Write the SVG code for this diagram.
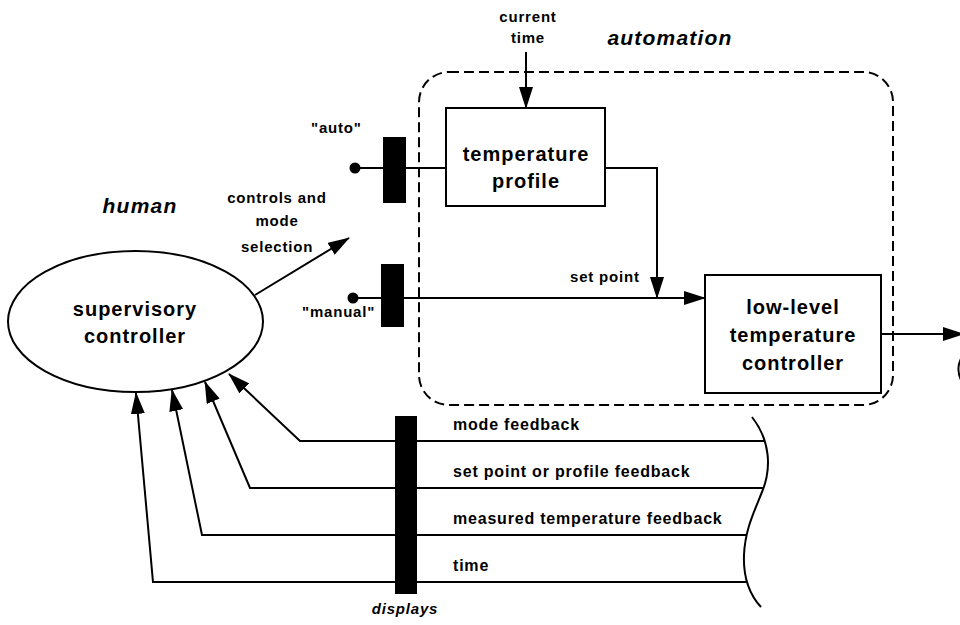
<svg xmlns="http://www.w3.org/2000/svg" width="960" height="625" viewBox="0 0 960 625">
  <style>
    .bg { fill: #ffffff; }
    .box { fill: #ffffff; stroke: #000; stroke-width: 2; }
    .wire { fill: none; stroke: #000; stroke-width: 2; }
    .dash { fill: none; stroke: #000; stroke-width: 2; stroke-dasharray: 10 5; }
    .bar { fill: #000; }
    .node { font-family: "Liberation Sans", Arial, sans-serif; font-weight: bold; font-size: 20px; letter-spacing: 1px; text-anchor: middle; fill: #000; }
    .lbl { font-family: "Liberation Sans", Arial, sans-serif; font-weight: bold; font-size: 15px; letter-spacing: 0.8px; fill: #000; }
    .fb { font-family: "Liberation Sans", Arial, sans-serif; font-weight: bold; font-size: 16px; letter-spacing: 0.8px; fill: #000; }
    .title { font-family: "Liberation Sans", Arial, sans-serif; font-weight: bold; font-style: italic; font-size: 21px; letter-spacing: 1.2px; text-anchor: middle; fill: #000; }
    .mid { text-anchor: middle; }
  </style>
  <defs>
    <marker id="arrow" markerUnits="userSpaceOnUse" markerWidth="22" markerHeight="14" viewBox="0 0 22 14" refX="21" refY="7" orient="auto">
      <path d="M0,0 L22,7 L0,14 Z" fill="#000"/>
    </marker>
  </defs>

  <rect class="bg" x="0" y="0" width="960" height="625"/>

  <!-- region titles -->
  <text class="title" x="140" y="213">human</text>
  <text class="title" x="670" y="45">automation</text>

  <!-- automation boundary -->
  <rect id="automation-boundary" class="dash" x="419" y="72" width="474" height="333" rx="30" ry="30"/>

  <!-- connectors -->
  <g id="connectors">
    <!-- current time into profile -->
    <line class="wire" x1="526" y1="52" x2="526" y2="108" marker-end="url(#arrow)"/>
    <!-- controls and mode selection -->
    <line class="wire" x1="255" y1="295" x2="349" y2="238" marker-end="url(#arrow)"/>
    <!-- auto switch path -->
    <line class="wire" x1="355" y1="168" x2="446" y2="168"/>
    <!-- manual switch path to low-level controller -->
    <line class="wire" x1="353" y1="298" x2="705" y2="298" marker-end="url(#arrow)"/>
    <!-- profile output joins set point -->
    <polyline class="wire" points="605,168 657,168 657,298" marker-end="url(#arrow)"/>
    <!-- controller output -->
    <line class="wire" x1="881" y1="334" x2="964" y2="334" marker-end="url(#arrow)"/>
    <path class="wire" d="M963,355 Q955,367 961,380"/>
    <!-- feedback paths -->
    <polyline class="wire" points="765,441 300,441 229,374" marker-end="url(#arrow)"/>
    <polyline class="wire" points="763,488 250,488 205,382" marker-end="url(#arrow)"/>
    <polyline class="wire" points="747,535 202,535 172,390" marker-end="url(#arrow)"/>
    <polyline class="wire" points="747,582 153,582 136,393" marker-end="url(#arrow)"/>
    <!-- break in the feedback bundle -->
    <path class="wire" d="M752,417 C770,440 772,468 762,492 C754,512 745,530 744,555 C743,580 750,595 761,607"/>
  </g>

  <!-- supervisory controller -->
  <g id="supervisory-controller">
    <ellipse class="box" cx="135.5" cy="321.5" rx="127.5" ry="70.5"/>
    <text class="node" x="135" y="316">supervisory</text>
    <text class="node" x="135" y="343">controller</text>
  </g>

  <!-- temperature profile -->
  <g id="temperature-profile">
    <rect class="box" x="446" y="108" width="159" height="98"/>
    <text class="node" x="526" y="161">temperature</text>
    <text class="node" x="526" y="188">profile</text>
  </g>

  <!-- low-level temperature controller -->
  <g id="low-level-controller">
    <rect class="box" x="705" y="275" width="176" height="118"/>
    <text class="node" x="793" y="314">low-level</text>
    <text class="node" x="793" y="342">temperature</text>
    <text class="node" x="793" y="370">controller</text>
  </g>

  <!-- auto switch -->
  <g id="auto-switch">
    <circle cx="355" cy="168" r="5.5" fill="#000"/>
    <rect class="bar" x="383" y="137" width="23" height="66"/>
    <text class="lbl" x="311" y="133">"auto"</text>
  </g>

  <!-- manual switch -->
  <g id="manual-switch">
    <circle cx="353" cy="298" r="5.5" fill="#000"/>
    <rect class="bar" x="381" y="264" width="23" height="63"/>
    <text class="lbl" x="302" y="317">"manual"</text>
  </g>

  <!-- displays -->
  <g id="displays">
    <rect class="bar" x="395" y="416" width="22" height="178"/>
    <text class="lbl mid" x="405" y="614" font-style="italic">displays</text>
  </g>

  <!-- labels -->
  <g id="labels">
    <text class="lbl mid" x="528" y="22">current</text>
    <text class="lbl mid" x="528" y="43">time</text>
    <text class="lbl mid" x="277" y="203">controls and</text>
    <text class="lbl mid" x="277" y="226">mode</text>
    <text class="lbl mid" x="277" y="252">selection</text>
    <text class="lbl" x="570" y="282">set point</text>
    <text class="fb" x="453" y="430">mode feedback</text>
    <text class="fb" x="453" y="477">set point or profile feedback</text>
    <text class="fb" x="453" y="524">measured temperature feedback</text>
    <text class="fb" x="453" y="571">time</text>
  </g>
</svg>
